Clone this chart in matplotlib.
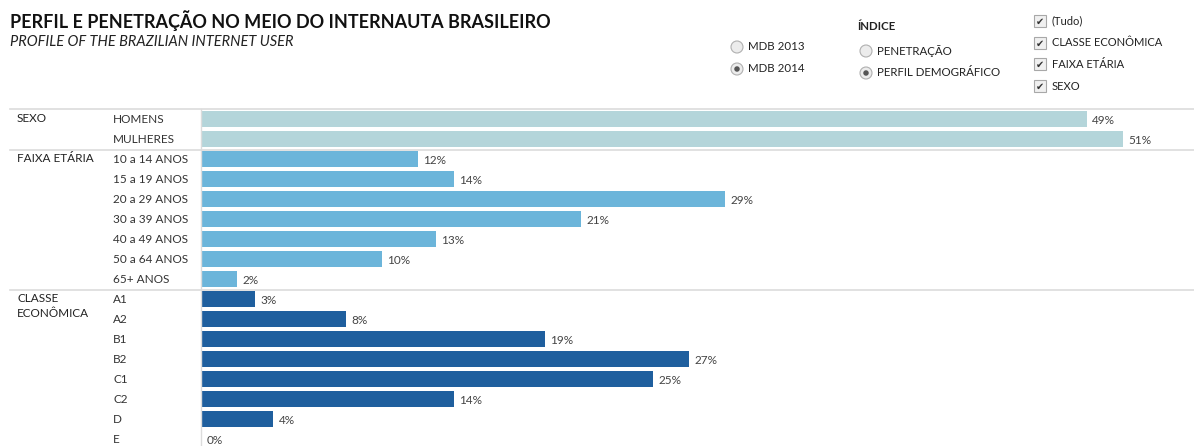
import matplotlib.pyplot as plt
from matplotlib.patches import Ellipse, Rectangle

plt.rcParams['font.family'] = ['Lato', 'DejaVu Sans']

# dados
grupos = ['SEXO', 'FAIXA ETÁRIA', 'CLASSE\nECONÔMICA']
sexo = ['HOMENS', 'MULHERES']
sexo_val = [49, 51]
idade = ['10 a 14 ANOS', '15 a 19 ANOS', '20 a 29 ANOS', '30 a 39 ANOS',
         '40 a 49 ANOS', '50 a 64 ANOS', '65+ ANOS']
idade_val = [12, 14, 29, 21, 13, 10, 2]
classe = ['A1', 'A2', 'B1', 'B2', 'C1', 'C2', 'D', 'E']
classe_val = [3, 8, 19, 27, 25, 14, 4, 0]
cores = ['#b4d5da', '#6cb5da', '#1f5f9e']

W, H = 1194, 446
fig = plt.figure(figsize=(W / 100, H / 100), dpi=100)

def px(x, y):
    return x / W, 1 - y / H

# eixo das barras: x de 201 ate a borda, y de 109 ate o fim
ax = fig.add_axes([201 / W, 0, 1 - 201 / W, (H - 109) / H])
ax.set_xlim(0, (W - 201) / 18.08)
ax.set_ylim(16.35, -0.5)
ax.axis('off')

cats = sexo + idade + classe
vals = sexo_val + idade_val + classe_val
cor_barras = [cores[0]] * len(sexo) + [cores[1]] * len(idade) + [cores[2]] * len(classe)
ys = list(range(len(cats)))
ax.barh(ys, vals, height=0.76, color=cor_barras)
for y, v in zip(ys, vals):
    ax.text(v + 0.3, y + 0.08, f'{v}%', va='center', ha='left', fontsize=8.5, color='#444444')

# linhas de separacao
lc = '#dcdcdc'
fig.add_artist(plt.Line2D([201 / W, 201 / W], [0, 1 - 109 / H], color=lc, lw=1))
for yy in [109, 149.5, 290]:
    fig.add_artist(plt.Line2D([10 / W, 1], [1 - yy / H] * 2, color=lc, lw=1.2))

# rotulos das categorias
for i, c in enumerate(cats):
    fig.text(*px(113, 119.5 + 20 * i), c, fontsize=8.5, va='center', color='#333333')
for g, r in zip(grupos, [0, len(sexo), len(sexo) + len(idade)]):
    fig.text(*px(17, 113 + 20 * r), g, fontsize=8.5, va='top', color='#222222', linespacing=1.45)

# titulo
fig.text(*px(10, 21), 'PERFIL E PENETRAÇÃO NO MEIO DO INTERNAUTA BRASILEIRO',
         fontsize=13, fontweight='bold', va='center', color='#111111')
fig.text(*px(10, 42), 'PROFILE OF THE BRAZILIAN INTERNET USER',
         fontsize=10.5, style='italic', va='center', color='#222222')

# controles
def radio(x, y, txt, sel):
    fig.add_artist(Ellipse(px(x, y), 12 / W, 12 / H, transform=fig.transFigure,
                           facecolor='#ececec', edgecolor='#b0b0b0', lw=0.8))
    if sel:
        fig.add_artist(Ellipse(px(x, y), 5.5 / W, 5.5 / H, transform=fig.transFigure,
                               facecolor='#555555', edgecolor='none'))
    fig.text(*px(x + 11, y), txt, fontsize=8.3, va='center', color='#222222')

def check(x, y, txt):
    x0, y0 = px(x - 6, y + 6)
    fig.add_artist(Rectangle((x0, y0), 12 / W, 12 / H, transform=fig.transFigure,
                             facecolor='#f0f0f0', edgecolor='#a8a8a8', lw=0.8))
    fig.text(*px(x, y + 0.5), '✔', fontsize=7, ha='center', va='center', color='#333333',
             family='DejaVu Sans')
    fig.text(*px(x + 12, y), txt, fontsize=8, va='center', color='#222222')

radio(737, 47, 'MDB 2013', False)
radio(737, 69, 'MDB 2014', True)
fig.text(*px(857, 27), 'ÍNDICE', fontsize=8.3, fontweight='bold', va='center', color='#222222')
radio(866, 51, 'PENETRAÇÃO', False)
radio(866, 73, 'PERFIL DEMOGRÁFICO', True)
for yy, t in zip([21, 43, 64, 86], ['(Tudo)', 'CLASSE ECONÔMICA', 'FAIXA ETÁRIA', 'SEXO']):
    check(1040, yy, t)

plt.savefig('out.png', dpi=100)
